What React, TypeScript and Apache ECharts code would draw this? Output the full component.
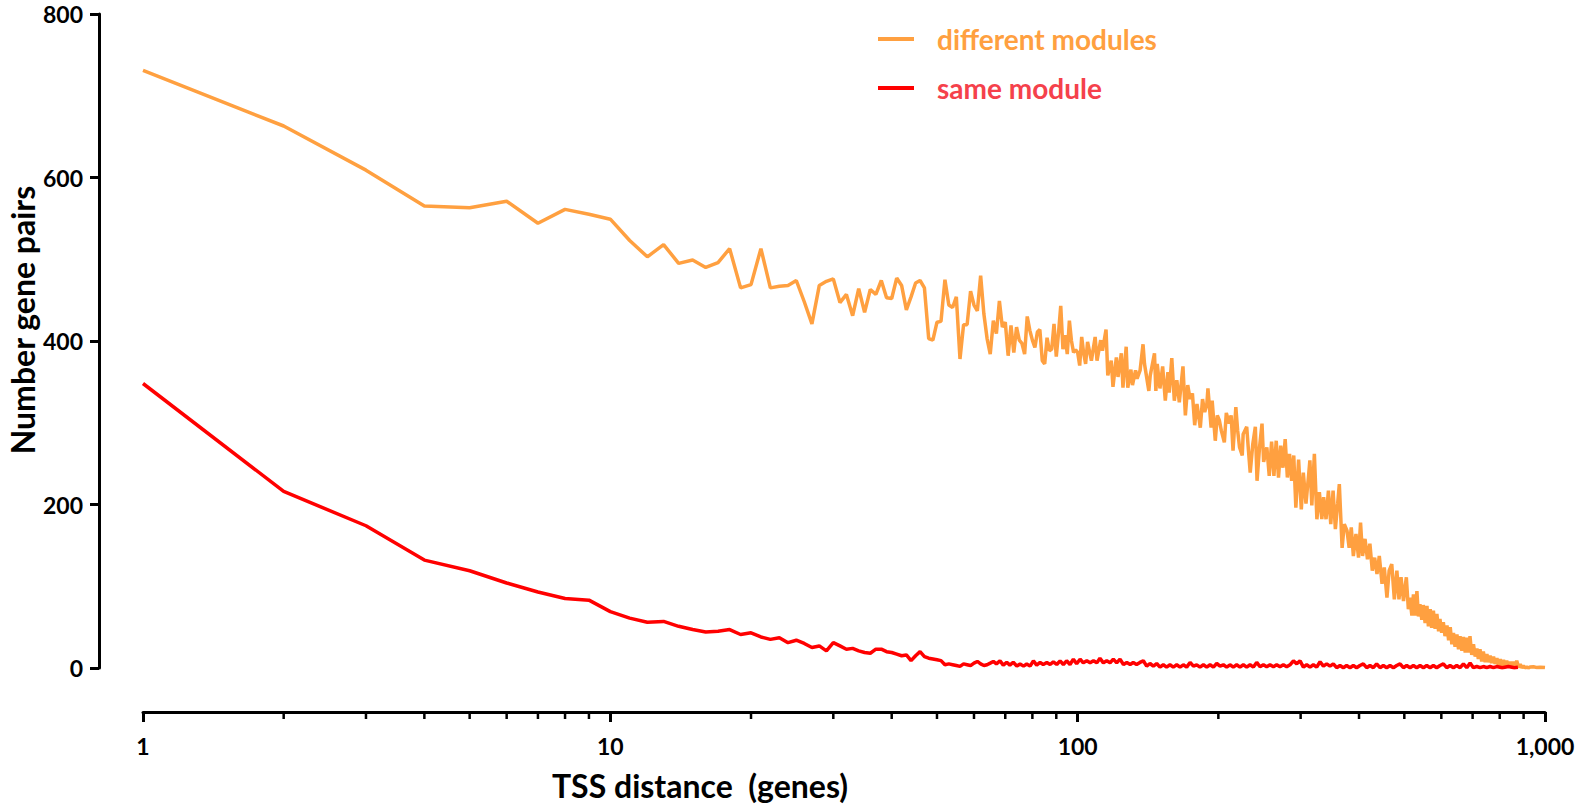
import React, { useEffect, useRef } from "react";
import * as echarts from "echarts";

// ---- data ----
const seriesNames = ["different modules", "same module"];
const xTickLabels = ["1", "10", "100", "1,000"];
const minorTickValues = [2, 3, 4, 5, 6, 7, 8, 9, 20, 30, 40, 50, 60, 70, 80, 90, 200, 300, 400, 500, 600, 700, 800, 900];

// different modules, x = 1..68
const differentHeadY = [
  731, 663, 609, 565, 563, 571, 544, 561, 555, 549,
  523, 503, 518, 495, 499, 490, 496, 513, 465, 469,
  513, 465, 467, 468, 474, 448, 421, 468, 473, 476,
  447, 457, 431, 464, 435, 463, 457, 474, 453, 452,
  477, 468, 438, 454, 471, 474, 465, 403, 401, 423,
  424, 475, 444, 441, 454, 378, 420, 420, 461, 444,
  437, 480, 433, 403, 384, 425, 409, 449,
];
// different modules, x > 68  [distance, pairs]
const differentTail: [number, number][] = [
  [69, 417], [70, 423], [71, 382], [72, 419], [73, 386], [74, 417], [75, 401], [76, 397], [77, 384], [78, 430],
  [79, 413], [80, 401], [81, 392], [82, 411], [83, 414], [84, 376], [85, 372], [86, 404], [87, 388], [88, 390],
  [89, 421], [90, 381], [91, 410], [92, 443], [93, 390], [94, 407], [95, 384], [96, 425], [97, 400], [98, 386],
  [99, 389], [100, 386], [101, 370], [102, 405], [103, 385], [104, 372], [105, 399], [107, 376], [109, 405], [110, 376],
  [112, 401], [113, 388], [115, 414], [116, 358], [118, 376], [119, 344], [121, 380], [122, 356], [124, 385], [125, 343],
  [127, 393], [128, 343], [130, 365], [131, 346], [133, 364], [134, 354], [136, 364], [138, 396], [139, 372], [142, 339],
  [143, 358], [146, 385], [147, 339], [148, 372], [150, 342], [152, 369], [154, 327], [156, 362], [157, 337], [159, 379],
  [161, 327], [163, 352], [165, 325], [168, 369], [170, 309], [172, 346], [174, 329], [176, 336], [178, 297], [180, 323],
  [183, 294], [185, 329], [187, 313], [189, 323], [190, 342], [193, 294], [194, 327], [197, 278], [199, 309], [201, 303],
  [203, 290], [206, 276], [208, 312], [211, 299], [213, 309], [215, 266], [218, 319], [220, 290], [222, 270], [225, 260],
  [226, 286], [230, 295], [232, 266], [234, 239], [237, 274], [240, 295], [242, 229], [245, 270], [248, 299], [250, 252],
  [254, 270], [257, 235], [260, 277], [263, 235], [266, 278], [269, 233], [272, 272], [275, 245], [278, 280], [281, 233],
  [284, 262], [287, 229], [290, 260], [293, 196], [297, 255], [301, 194], [304, 239], [308, 201], [312, 236], [314, 254],
  [317, 199], [321, 262], [325, 182], [329, 215], [333, 182], [336, 209], [340, 182], [344, 217], [348, 176], [352, 217],
  [356, 170], [360, 201], [363, 225], [368, 147], [372, 176], [377, 168], [381, 147], [385, 172], [389, 137], [394, 164],
  [399, 135], [403, 178], [407, 137], [412, 158], [417, 133], [422, 152], [427, 119], [432, 135], [437, 115], [442, 137],
  [448, 103], [453, 123], [459, 86], [464, 119], [470, 127], [476, 84], [482, 119], [487, 84], [492, 111], [498, 82],
  [505, 111], [510, 72], [514, 86], [519, 64], [523, 90], [527, 64], [532, 94], [536, 63], [540, 78], [545, 59],
  [549, 77], [554, 55], [559, 76], [563, 51], [568, 72], [572, 49], [577, 70], [582, 48], [587, 66], [592, 45],
  [596, 60], [601, 43], [606, 56], [611, 39], [617, 52], [622, 34], [627, 50], [632, 29], [637, 43], [642, 26],
  [648, 41], [653, 23], [658, 39], [664, 21], [669, 38], [675, 19], [680, 37], [686, 19], [691, 39], [697, 16],
  [703, 29], [709, 14], [715, 24], [720, 11], [726, 23], [732, 8], [738, 20], [745, 7], [751, 17], [757, 7],
  [763, 15], [769, 6], [776, 14], [782, 5], [789, 12], [795, 3], [802, 11], [808, 2], [815, 10], [822, 2],
  [828, 9], [835, 2], [842, 7.5], [849, 1.4], [856, 7.5], [863, 1], [870, 8.8], [878, 0.6], [885, 4.7], [892, 0.2],
  [899, 2.7], [907, 0], [914, 1.4], [922, 0], [929, 1.2], [945, 1.5], [961, 0.5], [976, 1], [1000, 0.5],
];

// same module, x = 1..67
const sameHeadY = [
  348, 216, 174, 132, 119, 104, 93, 85, 83, 69,
  61, 56, 57, 51, 47, 44, 45, 47, 41, 43,
  38, 35, 37, 31, 34, 30, 25, 27, 21, 31,
  27, 23, 24, 21, 19, 18, 23, 23, 20, 19,
  17, 15, 16, 9, 15, 20, 14, 12, 11, 10,
  9, 4, 5, 4, 3, 2, 5, 4, 3, 6,
  8, 5, 3, 4, 6, 8, 5,
];
// same module, x > 67  [distance, pairs]
const sameTail: [number, number][] = [
  [68.2, 8.8], [69.3, 3.5], [70.5, 7], [71.6, 3.5], [72.8, 7], [74.1, 2.3], [75.3, 4.9], [76.6, 2.3], [77.8, 4.9], [79.1, 2.3],
  [80.4, 8.8], [81.7, 3.5], [83.1, 6.8], [84.4, 4.3], [85.9, 6.8], [87.3, 4.3], [88.7, 7.6], [90.2, 4.3], [91.7, 8.8], [93.2, 4.3],
  [94.7, 8.8], [96.3, 4.3], [97.9, 10.8], [99.5, 5.1], [101.2, 10.8], [102.8, 6.3], [104.6, 8.8], [106.3, 6.3], [108.1, 8.8], [109.9, 6.3],
  [111.6, 12], [113.5, 6.3], [115.4, 8.8], [117.3, 6.3], [119.2, 10.8], [121.2, 6.3], [123.2, 10.8], [125.3, 4.3], [127.4, 6.8], [129.5, 4.3],
  [131.5, 6.8], [133.7, 4.3], [135.9, 6.8], [138.2, 8.8], [140.5, 2.3], [142.8, 5.5], [145.2, 2.3], [147.6, 5.5], [150, 1.1], [152.5, 3.9],
  [155, 1.1], [157.6, 3.9], [160.2, 1.1], [162.9, 3.9], [165.6, 1.1], [168.3, 3.9], [171.1, 1.1], [174, 6.8], [176.9, 2.3], [179.8, 3.9],
  [182.7, 1.1], [185.8, 3.9], [188.9, 1.1], [192, 3.9], [195.2, 1.1], [198.4, 5.5], [201.7, 2.3], [205, 3.9], [208.4, 1.1], [211.8, 3.9],
  [215.3, 1.1], [218.9, 3.9], [222.5, 1.1], [226.2, 3.9], [230, 1.1], [233.8, 3.9], [237.7, 1.1], [241.6, 6.8], [245.6, 1.5], [249.7, 3.9],
  [253.8, 1.5], [258, 3.9], [262.3, 1.5], [266.6, 3.9], [271, 1.5], [275.5, 3.9], [280.1, 1.5], [284.7, 3.9], [289.5, 8.8], [294.3, 5.1],
  [299.1, 8.8], [304.1, 1.1], [309.1, 3.9], [314.2, 1.1], [319.4, 3.9], [324.7, 1.1], [330.1, 7.6], [335.6, 2.3], [341.1, 5.1], [346.7, 2.3],
  [352.4, 5.1], [358.3, 0.4], [364.2, 3.1], [370.2, 0.4], [376.3, 3.1], [382.6, 0.4], [388.9, 3.1], [395.3, 0.4], [401.8, 3.1], [408.5, 5.1],
  [415.4, 0.4], [422.2, 3.1], [429.2, 0.4], [436.3, 5.1], [443.6, 0.4], [450.9, 3.1], [458.4, 0.4], [466, 3.1], [473.7, 0.4], [481.6, 3.1],
  [489.6, 5.1], [497.7, 0.4], [505.9, 3.1], [514.3, 0.4], [522.8, 3.1], [531.5, 0.4], [540.3, 3.1], [549.3, 0.4], [558.4, 3.1], [567.6, 0.4],
  [576.9, 3.1], [586.5, 0.4], [596.2, 3.1], [606.1, 5.1], [616.2, 0.4], [626.4, 3.1], [636.8, 0.4], [647.3, 3.1], [658.1, 0.4], [669, 5],
  [680.1, 0.4], [691.4, 6], [702.8, 0.4], [714.5, 1.8], [726.3, 0.4], [738.2, 1.8], [750.5, 0.4], [762.9, 1.8], [775.6, 0.4], [788.3, 1.8],
  [810, 0.4], [835, 1.8], [860, 0.4], [875, 1],
];

const ORANGE = "#FFA040";
const RED = "#FF0000";
const FONT = "Lato";
const AXIS_OFFSET = 44;

export default function App() {
  const ref = useRef<HTMLDivElement>(null);

  useEffect(() => {
    if (!ref.current) return;
    const chart = echarts.init(ref.current, undefined, { renderer: "svg" });

    const differentData = differentHeadY.map((v, i) => [i + 1, v]).concat(differentTail);
    const sameData = sameHeadY.map((v, i) => [i + 1, v]).concat(sameTail);

    const labelStyle = { fontFamily: FONT, fontWeight: "bold" as const, fontSize: 23, color: "#000" };

    chart.setOption({
      animation: false,
      grid: { left: 143, right: 44, top: 14, bottom: 136 },
      legend: {
        orient: "vertical",
        left: 873,
        top: 20,
        itemWidth: 36,
        itemHeight: 4,
        itemGap: 21,
        icon: "rect",
        textStyle: { fontFamily: FONT, fontWeight: "bold", fontSize: 28, padding: [0, 0, 0, 18] },
        data: [
          { name: seriesNames[0], textStyle: { color: ORANGE } },
          { name: seriesNames[1], textStyle: { color: "#F5414B" } },
        ],
      },
      xAxis: {
        type: "log",
        logBase: 10,
        min: 1,
        max: 1000,
        offset: AXIS_OFFSET,
        axisLine: { show: true, onZero: false, lineStyle: { color: "#000", width: 3 } },
        axisTick: { show: true, length: 10, lineStyle: { color: "#000", width: 3 } },
        axisLabel: {
          ...labelStyle,
          margin: 22,
          formatter: (v: number) => xTickLabels[Math.round(Math.log10(v))] ?? String(v),
        },
        splitLine: { show: false },
      },
      yAxis: {
        type: "value",
        min: 0,
        max: 800,
        interval: 200,
        offset: AXIS_OFFSET,
        axisLine: { show: true, onZero: false, lineStyle: { color: "#000", width: 3 } },
        axisTick: { show: true, length: 9, lineStyle: { color: "#000", width: 3 } },
        axisLabel: { ...labelStyle, margin: 16 },
        splitLine: { show: false },
      },
      graphic: [
        {
          type: "text",
          x: 700,
          y: 785,
          style: {
            text: "TSS distance  (genes)",
            fontFamily: FONT,
            fontWeight: "bold",
            fontSize: 32,
            fill: "#000",
            align: "center",
            verticalAlign: "middle",
          },
        },
        {
          type: "text",
          x: 22,
          y: 320,
          rotation: Math.PI / 2,
          style: {
            text: "Number gene pairs",
            fontFamily: FONT,
            fontWeight: "bold",
            fontSize: 32,
            fill: "#000",
            align: "center",
            verticalAlign: "middle",
          },
        },
      ],
      series: [
        {
          name: seriesNames[0],
          type: "line",
          data: differentData,
          showSymbol: false,
          lineStyle: { color: ORANGE, width: 3.5 },
          itemStyle: { color: ORANGE },
        },
        {
          name: seriesNames[1],
          type: "line",
          data: sameData,
          showSymbol: false,
          lineStyle: { color: RED, width: 3.5 },
          itemStyle: { color: RED },
        },
        {
          // minor ticks of the log axis (2..9 of each decade)
          type: "custom",
          silent: true,
          clip: false,
          data: minorTickValues.map((v) => [v, 0]),
          renderItem: (_params: any, api: any) => {
            const p = api.coord([api.value(0), 0]);
            const yAxisLine = p[1] + AXIS_OFFSET;
            return {
              type: "line",
              shape: { x1: p[0], y1: yAxisLine + 1, x2: p[0], y2: yAxisLine + 7 },
              style: { stroke: "#000", lineWidth: 2.5 },
            };
          },
        },
      ],
    });

    return () => chart.dispose();
  }, []);

  return (
    <div
      ref={ref}
      style={{ position: "fixed", left: 0, top: 0, width: 1589, height: 804, background: "#fff" }}
    />
  );
}
